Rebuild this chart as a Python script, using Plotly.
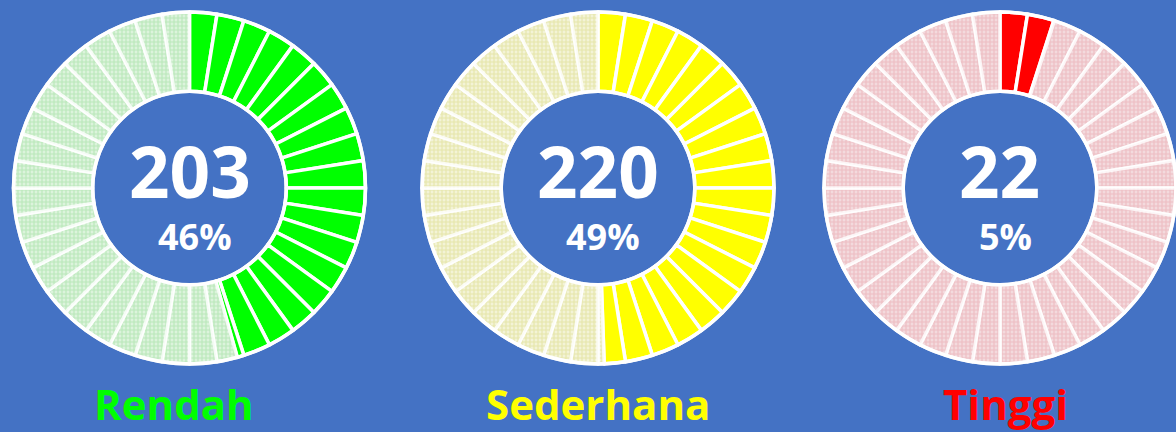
import plotly.graph_objects as go

categories = ["Rendah", "Sederhana", "Tinggi"]
counts = [203, 220, 22]
percent_labels = ["46%", "49%", "5%"]
n_segments = 40

fill_colors = ["#00FF00", "#FFFF00", "#FF0000"]
pale_colors = ["#DCF3DC", "#F3F3D6", "#F3DADD"]
grid_colors = ["#98DC98", "#D8D880", "#E8A0A8"]
label_colors = ["#00FF00", "#FFFF00", "#FF0000"]
centers_px = [189.5, 598, 1000]
W, H = 1176, 432
R = 176
CY = 188
BG = "#4472C4"

total = sum(counts)
fig = go.Figure()

for k, cat in enumerate(categories):
    f = counts[k] / total
    values, colors, lcolors, shapes, fgc = [], [], [], [], []
    for i in range(n_segments):
        s, e = i / n_segments, (i + 1) / n_segments
        if e <= f:
            parts = [(e - s, True)]
        elif s >= f:
            parts = [(e - s, False)]
        else:
            parts = [(f - s, True), (e - f, False)]
        for v, filled in parts:
            values.append(v)
            if filled:
                colors.append(fill_colors[k])
                lcolors.append("#FFFFFF")
                shapes.append("")
                fgc.append(fill_colors[k])
            else:
                colors.append(pale_colors[k])
                lcolors.append("rgba(255,255,255,0.8)")
                shapes.append("+")
                fgc.append(grid_colors[k])
    cx = centers_px[k]
    dom = dict(x=[(cx - R) / W, (cx + R) / W], y=[1 - (CY + R) / H, 1 - (CY - R) / H])
    fig.add_trace(go.Pie(
        values=values, sort=False, direction="clockwise", rotation=0,
        hole=0.55, domain=dom, textinfo="none", hoverinfo="skip",
        showlegend=False,
        marker=dict(colors=colors, line=dict(color=lcolors, width=3.5),
                    pattern=dict(shape=shapes, fgcolor=fgc, size=4, solidity=0.5,
                                 fillmode="overlay")),
    ))
    fig.add_trace(go.Pie(
        values=[1], sort=False, hole=0.55, domain=dom, textinfo="none",
        hoverinfo="skip", showlegend=False,
        marker=dict(colors=["rgba(0,0,0,0)"], line=dict(color="#FFFFFF", width=3.5)),
    ))
    fig.add_annotation(x=cx / W, y=1 - 170 / H, xref="paper", yref="paper",
                       xanchor="center", yanchor="middle",
                       text=f"<b>{counts[k]}</b>", showarrow=False,
                       font=dict(family="Open Sans", size=71, color="#FFFFFF"))
    fig.add_annotation(x=(cx + 5) / W, y=1 - 236 / H, xref="paper", yref="paper",
                       xanchor="center", yanchor="middle",
                       text=f"<b>{percent_labels[k]}</b>", showarrow=False,
                       font=dict(family="Open Sans", size=36, color="#FFFFFF"))
    fig.add_annotation(x=(cx - 16 if k == 0 else cx + 5 if k == 2 else cx) / W,
                       y=1 - 403 / H, xref="paper", yref="paper",
                       xanchor="center", yanchor="middle",
                       text=f"<b>{cat}</b>", showarrow=False,
                       font=dict(family="Open Sans", size=42, color=label_colors[k]))

fig.update_layout(width=W, height=H, margin=dict(l=0, r=0, t=0, b=0),
                  paper_bgcolor=BG, plot_bgcolor=BG)
fig.write_html("out.html", post_script="document.body.style.margin='0';",
               config={"displayModeBar": False})
